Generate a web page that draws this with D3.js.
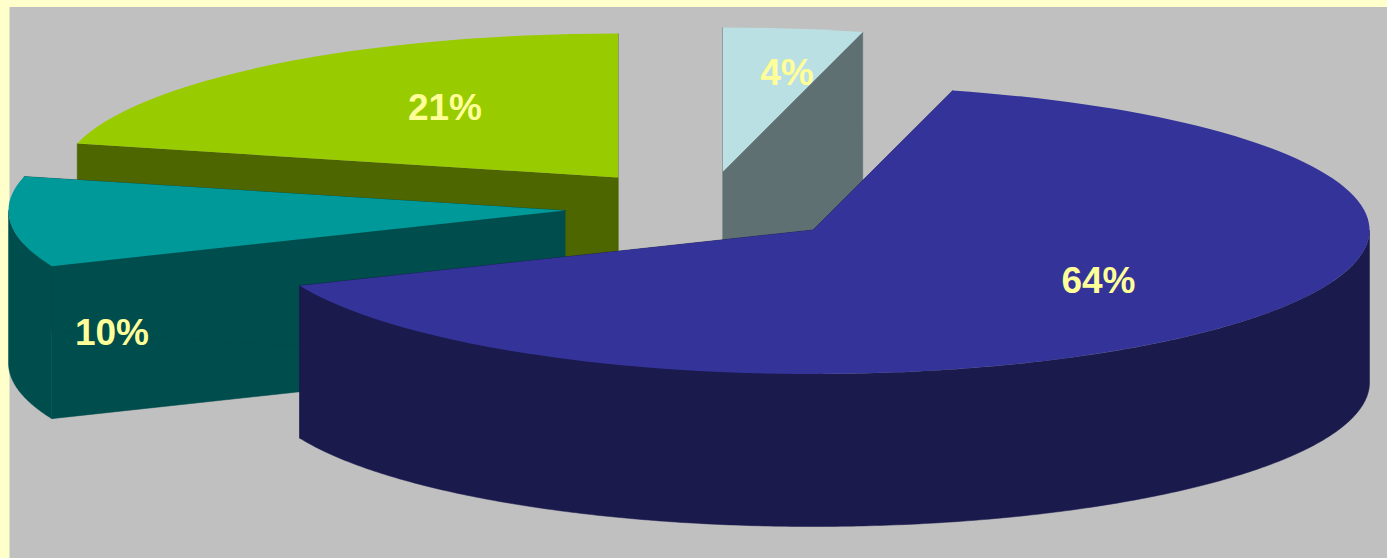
<!DOCTYPE html>
<html>
<head>
<meta charset="utf-8">
<style>
  html, body { margin: 0; padding: 0; background: #FFFFCC; overflow: hidden; }
  svg { display: block; }
  text { font-family: "Liberation Sans", Arial, sans-serif; font-weight: 700; font-size: 37px; fill: #FFFF99; text-anchor: middle; }
</style>
</head>
<body>
<script src="https://cdn.jsdelivr.net/npm/d3@7/dist/d3.min.js"></script>
<script>
// Slices run clockwise from twelve o'clock.
const categories = ["Slice A", "Slice B", "Slice C", "Slice D"];
const percentages = [4, 64, 10, 21];
const labels = ["4%", "64%", "10%", "21%"];
const topColors = ["#BBE0E3", "#333399", "#009999", "#99CC00"];
const sideColors = ["#5E7072", "#1A1A4D", "#004D4D", "#4D6600"];

// Layout: exploded centre of each slice, label anchors, back-to-front painting order.
const centers = [[723, 171.5], [813, 230], [565, 210.5], [618, 177.5]];
const labelAt = [[787, 85], [1098.5, 292.5], [112, 345], [445, 120]];
const paintOrder = [0, 3, 2, 1];

const width = 1387, height = 558;
const radius = 100;
const rx = 556.5, ry = 144, depth = 152.5;
const plot = { x: 9.5, y: 7 };

const svg = d3.select("body").append("svg")
  .attr("width", width).attr("height", height);

svg.append("rect")
  .attr("x", plot.x).attr("y", plot.y)
  .attr("width", width - plot.x).attr("height", height - plot.y)
  .attr("fill", "#C0C0C0");

const slices = d3.pie().value(d => d).sort(null)(percentages);
const arc = d3.arc().innerRadius(0).outerRadius(radius);
const sx = d3.scaleLinear().domain([-1, 1]).range([-rx, rx]);
const sy = d3.scaleLinear().domain([-1, 1]).range([ry, -ry]);

// Visible rim: the part of the slice's outer edge on the near half of the ellipse.
const rimAngles = (a0, a1) => {
  const from = Math.max(a0, Math.PI / 2), to = Math.min(a1, Math.PI * 1.5);
  return from < to ? d3.range(from, to, 0.01).concat([to]) : [];
};

paintOrder.forEach(i => {
  const s = slices[i];
  const [cx, cy] = centers[i];
  const g = svg.append("g").attr("class", "slice").attr("data-name", categories[i]);
  const px = a => cx + sx(Math.sin(a));
  const py = a => cy + sy(Math.cos(a));

  // Cut faces, extruded straight down from the two radial edges.
  [s.startAngle, s.endAngle].forEach(a => {
    const face = d3.path();
    face.moveTo(cx, cy);
    face.lineTo(px(a), py(a));
    face.lineTo(px(a), py(a) + depth);
    face.lineTo(cx, cy + depth);
    face.closePath();
    g.append("path").attr("d", face.toString())
      .attr("fill", sideColors[i])
      .attr("stroke", sideColors[i]).attr("stroke-width", 0.5);
  });

  // Curved outer wall.
  const rim = d3.area().x(px).y0(py).y1(a => py(a) + depth);
  const angles = rimAngles(s.startAngle, s.endAngle);
  if (angles.length) {
    g.append("path").attr("d", rim(angles))
      .attr("fill", sideColors[i])
      .attr("stroke", sideColors[i]).attr("stroke-width", 0.5);
  }

  // Top surface: a circular sector flattened into the ellipse.
  g.append("path")
    .attr("d", arc(s))
    .attr("transform", `translate(${cx},${cy}) scale(${rx / radius},${ry / radius})`)
    .attr("fill", topColors[i]);
});

svg.append("g").selectAll("text").data(labels).join("text")
  .attr("x", (d, i) => labelAt[i][0])
  .attr("y", (d, i) => labelAt[i][1])
  .text(d => d);
</script>
</body>
</html>
